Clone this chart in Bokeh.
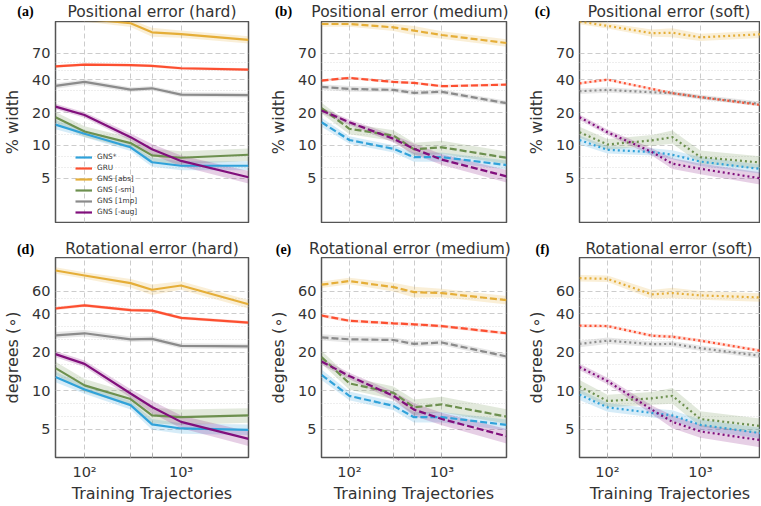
import math
from bokeh.plotting import figure
from bokeh.layouts import row, column
from bokeh.models import FixedTicker, Legend, LegendItem
from bokeh.core.properties import value
from bokeh.embed import file_html
from bokeh.resources import INLINE

# ---------------- data ----------------
X = [50, 100, 300, 500, 1000, 5000]
SERIES = ["GNS*", "GRU", "GNS [abs]", "GNS [-sm]", "GNS [1mp]", "GNS [-aug]"]
COLORS = ["#30a2da", "#fc4f30", "#e5ae38", "#6d904f", "#8b8b8b", "#810f7c"]

# relative half-width of the shaded band for each series at each x
SPREAD = {
    "GNS*":       [0.10, 0.08, 0.08, 0.10, 0.10, 0.10],
    "GRU":        [0.03, 0.03, 0.03, 0.03, 0.03, 0.03],
    "GNS [abs]":  [0.06, 0.06, 0.08, 0.10, 0.08, 0.08],
    "GNS [-sm]":  [0.12, 0.12, 0.12, 0.15, 0.15, 0.14],
    "GNS [1mp]":  [0.06, 0.06, 0.05, 0.05, 0.05, 0.05],
    "GNS [-aug]": [0.06, 0.06, 0.08, 0.12, 0.12, 0.14],
}

pos_hard = {
    "GNS*":       [15.5, 12.8, 9.6, 7.0, 6.5, 6.5],
    "GRU":        [53.0, 55.0, 54.5, 53.7, 51.0, 49.6],
    "GNS [abs]":  [160.0, 145.0, 132.0, 109.0, 105.0, 93.0],
    "GNS [-sm]":  [18.1, 13.4, 10.5, 8.1, 7.7, 8.2],
    "GNS [1mp]":  [35.1, 38.2, 32.5, 33.4, 29.2, 28.9],
    "GNS [-aug]": [22.7, 19.0, 11.9, 9.2, 7.2, 5.1],
}
pos_medium = {
    "GNS*":       [16.3, 11.2, 9.3, 7.8, 7.8, 6.6],
    "GRU":        [39.3, 41.6, 38.2, 37.4, 34.9, 36.1],
    "GNS [abs]":  [130.0, 130.0, 121.0, 113.0, 103.0, 87.0],
    "GNS [-sm]":  [22.0, 14.2, 12.3, 9.2, 9.6, 7.7],
    "GNS [1mp]":  [34.4, 33.0, 32.3, 30.3, 31.0, 24.4],
    "GNS [-aug]": [20.9, 16.3, 11.5, 9.3, 7.4, 5.2],
}
pos_soft = {
    "GNS*":       [11.2, 9.1, 8.7, 8.2, 7.1, 6.0],
    "GRU":        [37.1, 40.1, 33.0, 30.1, 27.7, 23.2],
    "GNS [abs]":  [137.0, 125.0, 107.0, 108.0, 98.0, 105.0],
    "GNS [-sm]":  [13.2, 10.2, 11.1, 11.9, 7.8, 6.9],
    "GNS [1mp]":  [31.4, 32.3, 30.7, 30.1, 27.7, 23.7],
    "GNS [-aug]": [18.1, 13.2, 8.7, 6.8, 6.1, 4.9],
}
rot_hard = {
    "GNS*":       [12.8, 10.2, 7.7, 5.45, 5.06, 4.94],
    "GRU":        [43.9, 46.4, 42.6, 42.3, 37.1, 34.0],
    "GNS [abs]":  [87.0, 79.6, 69.3, 61.5, 66.4, 47.4],
    "GNS [-sm]":  [15.0, 11.0, 8.6, 6.4, 6.2, 6.4],
    "GNS [1mp]":  [27.1, 28.1, 25.2, 25.4, 22.4, 22.2],
    "GNS [-aug]": [19.3, 16.2, 9.5, 7.45, 5.7, 4.2],
}
rot_medium = {
    "GNS*":       [13.3, 9.1, 7.6, 6.2, 6.2, 5.4],
    "GRU":        [38.7, 35.2, 33.6, 33.0, 32.0, 28.1],
    "GNS [abs]":  [67.4, 72.0, 64.5, 59.0, 58.0, 51.0],
    "GNS [-sm]":  [18.3, 11.4, 9.6, 7.4, 7.8, 6.27],
    "GNS [1mp]":  [26.1, 25.2, 24.9, 23.2, 23.8, 18.5],
    "GNS [-aug]": [16.9, 13.0, 9.1, 7.1, 6.0, 4.4],
}
rot_soft = {
    "GNS*":       [9.3, 7.4, 6.7, 6.4, 5.4, 4.6],
    "GRU":        [32.2, 32.0, 26.9, 26.4, 24.6, 20.2],
    "GNS [abs]":  [75.8, 74.9, 56.6, 58.0, 55.6, 53.4],
    "GNS [-sm]":  [10.8, 8.3, 8.7, 9.1, 6.0, 5.24],
    "GNS [1mp]":  [23.2, 24.6, 23.1, 23.2, 21.5, 18.5],
    "GNS [-aug]": [15.3, 11.9, 7.1, 5.7, 4.8, 4.05],
}

TITLES = ["Positional error (hard)", "Positional error (medium)", "Positional error (soft)",
          "Rotational error (hard)", "Rotational error (medium)", "Rotational error (soft)"]
LETTERS = ["(a)", "(b)", "(c)", "(d)", "(e)", "(f)"]
POS_TICKS = [5, 10, 20, 40, 70]
ROT_TICKS = [5, 10, 20, 40, 60]
X_GRID = [100, 300, 500, 1000]
X_LABELS = {100: "10\u00b2", 1000: "10\u00b3", 300: "", 500: ""}

# ---------------- style / layout ----------------
FONT = "DejaVu Sans"
TXT = "#333333"
DASHES = ["solid", "7 3", "2 3"]
FRAME_W = [193, 193, 188]
FIG_W = [266, 258, 236]
LEFT = [55, 47, 48]
TOTAL_W = sum(FIG_W)
FRAME_H = 201
HEADER_H = [21, 34]          # strip above each row holding titles
TITLE_OFF = [11.5, 25]       # title centre within that strip
LETTER_OFF = [11, 25.5]
ROW_BOTTOM = [1, 47]


def minor_between(ticks):
    out = []
    for a, b in zip(ticks[:-1], ticks[1:]):
        la, lb = math.log10(a), math.log10(b)
        out += [10 ** (la + (lb - la) / 3), 10 ** (la + 2 * (lb - la) / 3)]
    return out


def header(r):
    h = HEADER_H[r]
    p = figure(width=TOTAL_W, height=h, x_range=(0, TOTAL_W), y_range=(h, 0),
               output_backend="svg", toolbar_location=None,
               x_axis_location=None, y_axis_location=None,
               min_border=0, min_border_left=0, min_border_right=0,
               min_border_top=0, min_border_bottom=0)
    p.outline_line_color = None
    p.grid.visible = False
    p.background_fill_color = "white"
    p.border_fill_color = "white"
    starts = [sum(FIG_W[:c]) + LEFT[c] for c in range(3)]
    p.text(x=[s + 96.5 for s in starts], y=[TITLE_OFF[r]] * 3, text=TITLES[3 * r:3 * r + 3],
           text_font=value(FONT), text_font_size="15.5px", text_color=TXT,
           text_align="center", text_baseline="middle")
    p.text(x=[s - 30 for s in starts], y=[LETTER_OFF[r]] * 3, text=LETTERS[3 * r:3 * r + 3],
           text_font=value("Liberation Serif"), text_font_style="bold",
           text_font_size="14px", text_color="black",
           text_align="center", text_baseline="middle")
    return p


def panel(i, data, yticks, yrange, ylabel, bottom_row):
    col = i % 3
    bot = ROW_BOTTOM[1 if bottom_row else 0]
    x_end = 10 ** (math.log10(X[0]) + (math.log10(X[-1]) - math.log10(X[0])) * FRAME_W[col] / 193)
    h = FRAME_H + bot
    p = figure(width=FIG_W[col], height=h, x_axis_type="log", y_axis_type="log",
               x_range=(X[0], x_end), y_range=yrange, output_backend="svg",
               toolbar_location=None, min_border_left=LEFT[col],
               min_border_right=FIG_W[col] - FRAME_W[col] - LEFT[col],
               min_border_top=0, min_border_bottom=bot)
    p.background_fill_color = "white"
    p.border_fill_color = "white"
    p.outline_line_color = "#555555"
    p.outline_line_width = 1.5

    # axes
    if bottom_row:
        p.xaxis.ticker = FixedTicker(ticks=X_GRID)
        p.xaxis.major_label_overrides = X_LABELS
        p.xaxis.major_tick_in = 4
        p.xaxis.major_tick_out = 0
        p.xaxis.major_tick_line_color = "#aaaaaa"
        p.xaxis.minor_tick_line_color = None
        p.xaxis.axis_line_color = None
        p.xaxis.major_label_text_font = FONT
        p.xaxis.major_label_text_font_size = "14.5px"
        p.xaxis.major_label_text_color = TXT
        p.xaxis.major_label_standoff = 6
        p.xaxis.axis_label = "Training Trajectories"
        p.xaxis.axis_label_text_font = FONT
        p.xaxis.axis_label_text_font_size = "16px"
        p.xaxis.axis_label_text_font_style = "normal"
        p.xaxis.axis_label_text_color = TXT
        p.xaxis.axis_label_standoff = 1
    else:
        p.xaxis.visible = False

    p.yaxis.ticker = FixedTicker(ticks=yticks)
    p.yaxis.major_tick_out = 0
    p.yaxis.major_tick_in = 0
    p.yaxis.minor_tick_line_color = None
    p.yaxis.axis_line_color = None
    p.yaxis.major_label_text_font = FONT
    p.yaxis.major_label_text_font_size = "14.5px"
    p.yaxis.major_label_text_color = TXT
    p.yaxis.major_label_standoff = 5
    p.yaxis.axis_label = ylabel
    p.yaxis.axis_label_text_font = FONT
    p.yaxis.axis_label_text_font_size = "16px"
    p.yaxis.axis_label_text_font_style = "normal"
    p.yaxis.axis_label_text_color = TXT
    p.yaxis.axis_label_standoff = 7

    # grids
    p.xgrid.ticker = FixedTicker(ticks=X_GRID)
    p.xgrid.grid_line_color = "#cccccc"
    p.xgrid.grid_line_dash = "5 3"
    p.ygrid.ticker = FixedTicker(ticks=yticks, minor_ticks=minor_between(yticks))
    p.ygrid.grid_line_color = "#cccccc"
    p.ygrid.grid_line_dash = "5 3"
    p.ygrid.minor_grid_line_color = "#dddddd"
    p.ygrid.minor_grid_line_dash = "1 2"

    lines = []
    for name, color in zip(SERIES, COLORS):
        ys = data[name]
        sp = SPREAD[name]
        lo = [v / (1 + s) for v, s in zip(ys, sp)]
        hi = [v * (1 + s) for v, s in zip(ys, sp)]
        p.varea(x=X, y1=lo, y2=hi, fill_color=color, fill_alpha=0.2)
    for name, color in zip(SERIES, COLORS):
        r = p.line(X, data[name], line_color=color, line_width=2.2, line_dash=DASHES[col])
        lines.append((name, r))

    if i == 0:
        leg = Legend(items=[LegendItem(label=n, renderers=[r]) for n, r in lines],
                     location=(20, 6))
        leg.label_text_font = FONT
        leg.label_text_font_size = "7.3px"
        leg.label_text_color = TXT
        leg.glyph_width = 17
        leg.glyph_height = 8
        leg.label_height = 8
        leg.label_standoff = 5
        leg.spacing = 2
        leg.padding = 0
        leg.margin = 0
        leg.background_fill_alpha = 0
        leg.border_line_color = None
        p.add_layout(leg)
    return p


figs = []
datas = [pos_hard, pos_medium, pos_soft, rot_hard, rot_medium, rot_soft]
for i, d in enumerate(datas):
    top_row = i < 3
    figs.append(panel(i, d, POS_TICKS if top_row else ROT_TICKS,
                      (1.96, 137) if top_row else (3.0, 110),
                      "% width" if top_row else "degrees (\u2218)", not top_row))

layout = column(header(0), row(*figs[:3], spacing=0),
                header(1), row(*figs[3:], spacing=0), spacing=0)
open("out.html", "w").write(file_html(layout, INLINE))
